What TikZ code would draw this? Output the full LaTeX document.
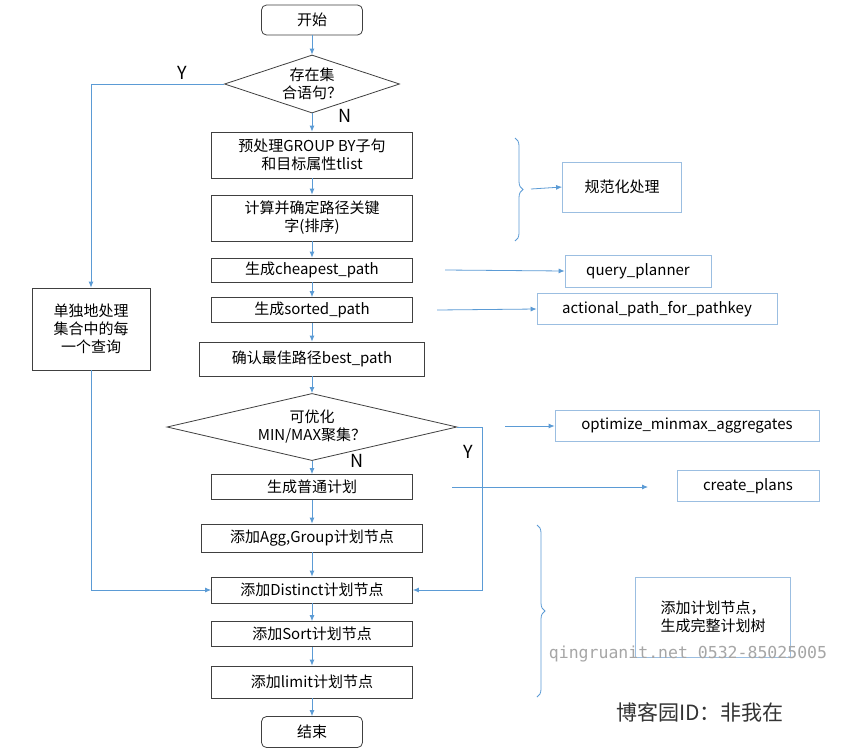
\documentclass[tikz,border=0pt]{standalone}
\usepackage{fontspec}
\setmainfont{Noto Sans CJK SC}
\newfontfamily\monof{DejaVu Sans Mono}
\usetikzlibrary{shapes.geometric,arrows.meta,decorations.pathreplacing}
\definecolor{ln}{RGB}{91,155,213}
\definecolor{rb}{RGB}{155,190,225}
\begin{document}
\begin{tikzpicture}[x=1pt,y=-1pt,
  every node/.style={font=\fontsize{15}{18}\selectfont},
  bx/.style={draw=black!75,thick,align=center,inner sep=0pt},
  rbx/.style={draw=rb,thick,align=center,inner sep=0pt},
  rnd/.style={bx,rounded corners=5pt},
  dia/.style={draw=black!75,thick,diamond,aspect=3.2,align=center,inner sep=0pt},
  ar/.style={ln,thick,-{Latex[length=6pt,width=5pt]}},
  lbl/.style={font=\fontsize{18}{20}\selectfont},
  br/.style={ln,thick,decorate,decoration={brace,amplitude=8pt}}]
\useasboundingbox[fill=white] (0,0) rectangle (853,750);
\node[rnd,minimum width=101,minimum height=30] (start) at (312,20) {开始};
\node[dia,minimum width=175,minimum height=58] (d1) at (312,84) {存在集\\合语句？};
\node[bx,minimum width=201,minimum height=46] (b1) at (312,155) {预处理GROUP BY子句\\和目标属性tlist};
\node[bx,minimum width=201,minimum height=46] (b2) at (312,218) {计算并确定路径关键\\字(排序)};
\node[bx,minimum width=201,minimum height=24] (b3) at (312,270) {生成cheapest\_path};
\node[bx,minimum width=201,minimum height=25] (b4) at (312,310) {生成sorted\_path};
\node[bx,minimum width=225,minimum height=34] (b5) at (312,359) {确认最佳路径best\_path};
\node[dia,minimum width=290,minimum height=57] (d2) at (312,427) {可优化\\MIN/MAX聚集？};
\node[bx,minimum width=201,minimum height=25] (b6) at (312,487) {生成普通计划};
\node[bx,minimum width=221,minimum height=28] (b7) at (312,538) {添加Agg,Group计划节点};
\node[bx,minimum width=201,minimum height=26] (b8) at (312,590) {添加Distinct计划节点};
\node[bx,minimum width=201,minimum height=25] (b9) at (312,634) {添加Sort计划节点};
\node[bx,minimum width=201,minimum height=32] (b10) at (312,682) {添加limit计划节点};
\node[rnd,minimum width=101,minimum height=31] (end) at (312,732) {结束};
\node[bx,minimum width=118,minimum height=82] (side) at (91,329) {单独地处理\\集合中的每\\一个查询};
\node[lbl] at (182,73) {Y};
\node[lbl] at (345,116) {N};
\node[lbl] at (357,461) {N};
\node[lbl] at (468,452) {Y};
\foreach \a/\b in {start/d1,d1/b1,b1/b2,b2/b3,b3/b4,b4/b5,b5/d2,d2/b6,b6/b7,b7/b8,b8/b9,b9/b10,b10/end}
  \draw[ar] (\a) -- (\b);
\draw[ar] (d1.west) -| (side.north);
\draw[ar] (side.south) |- (b8.west);
\draw[ar] (d2.east) -| (482,590) -- (b8.east);
% right side
\node[rbx,minimum width=119,minimum height=50] (r1) at (622,187) {规范化处理};
\node[rbx,minimum width=146,minimum height=32] (r2) at (638,271) {query\_planner};
\node[rbx,minimum width=240,minimum height=31] (r3) at (657,309) {actional\_path\_for\_pathkey};
\node[rbx,minimum width=264,minimum height=31] (r4) at (687,426) {optimize\_minmax\_aggregates};
\node[rbx,minimum width=142,minimum height=31] (r5) at (748,486) {create\_plans};
\node[rbx,minimum width=155,minimum height=80,align=left] (r6) at (713,617) {添加计划节点，\\生成完整计划树};
\draw[br] (515,138) -- (515,241);
\coordinate (t1) at (531,189);
\draw[ar] (t1) -- (r1.west);
\coordinate (s2) at (445,270); \draw[ar] (s2) -- (r2.west);
\coordinate (s3) at (437,310); \draw[ar] (s3) -- (r3.west);
\coordinate (s4) at (505,426); \draw[ar] (s4) -- (r4.west);
\coordinate (s5) at (452,487); \draw[ar] (s5) -- (648,487) coordinate (e5);
\draw[br] (537,525) -- (537,697);
\node[text=black!35,font=\monof\fontsize{16.5}{18}\selectfont] (wm) at (688,654) {qingruanit.net 0532-85025005};
\node[font=\fontsize{21}{24}\selectfont,text=black!80] (id) at (700,712) {博客园ID：非我在};
\end{tikzpicture}
\end{document}
